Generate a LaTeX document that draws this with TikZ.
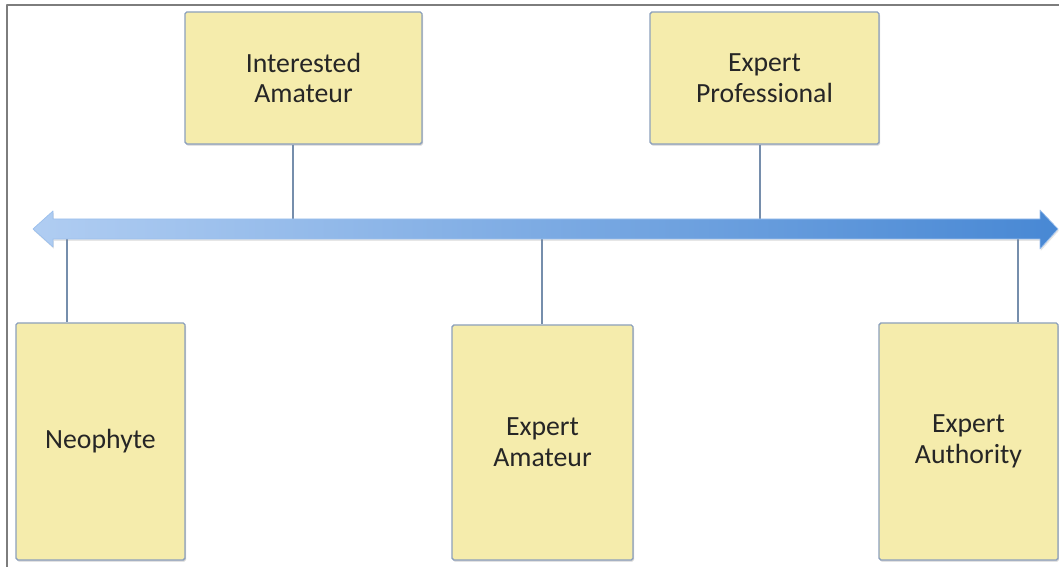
\documentclass[tikz,border=0pt]{standalone}
\usepackage{fontspec}
\setmainfont{Carlito}
\usetikzlibrary{shadows}
\definecolor{boxfill}{RGB}{245,236,172}
\definecolor{boxedge}{RGB}{140,160,188}
\definecolor{linkcol}{RGB}{118,142,172}
\definecolor{framecol}{RGB}{125,125,125}
\definecolor{axisleft}{RGB}{176,205,242}
\definecolor{axisright}{RGB}{72,136,212}
\begin{document}
\begin{tikzpicture}[x=0.02cm, y=-0.02cm, line join=round,
	stage/.style={draw=boxedge, fill=boxfill, line width=0.8pt, rounded corners=1pt,
		drop shadow={shadow xshift=0.6pt, shadow yshift=-0.9pt, opacity=0.35},
		align=center, inner sep=0pt, text=black!85,
		font=\fontsize{15.8}{17.5}\selectfont},
	link/.style={draw=linkcol, line width=0.9pt}]
	\def\u{0.02cm}
	\useasboundingbox (0,0) rectangle (1059,567);
	% frame
	\draw[framecol, line width=1.2pt] (7,567) -- (7,5) -- (1059,5);
	% stages
	\node[stage, minimum width={237*\u}, minimum height={132*\u}] (ia) at (303.5,78) {Interested\\Amateur};
	\node[stage, minimum width={229*\u}, minimum height={132*\u}] (ep) at (764.5,78) {Expert\\Professional};
	\node[stage, minimum width={169*\u}, minimum height={237*\u}] (neo) at (100.5,441.5) {Neophyte};
	\node[stage, minimum width={181*\u}, minimum height={235*\u}] (ea) at (542.5,442.5) {Expert\\Amateur};
	\node[stage, minimum width={179*\u}, minimum height={237*\u}] (eau) at (968.5,441.5) {Expert\\Authority};
	% points on the axis
	\coordinate (p1) at (67,229);
	\coordinate (p2) at (293,229);
	\coordinate (p3) at (542,229);
	\coordinate (p4) at (760,229);
	\coordinate (p5) at (1018,229);
	\draw[link] (p1) -- (p1 |- neo.north)
		(ia.south -| p2) -- (p2)
		(p3) -- (p3 |- ea.north)
		(ep.south -| p4) -- (p4)
		(p5) -- (p5 |- eau.north);
	% axis
	\path[left color=axisleft, right color=axisright, draw=axisleft!80!axisright, line width=0.4pt,
		drop shadow={shadow xshift=0.5pt, shadow yshift=-1pt, opacity=0.2}]
		(33,229) -- (53,211) -- (53,219) -- (1040,219) -- (1040,210) -- (1058,229)
		-- (1040,249) -- (1040,239) -- (53,239) -- (53,247) -- cycle;
\end{tikzpicture}
\end{document}
